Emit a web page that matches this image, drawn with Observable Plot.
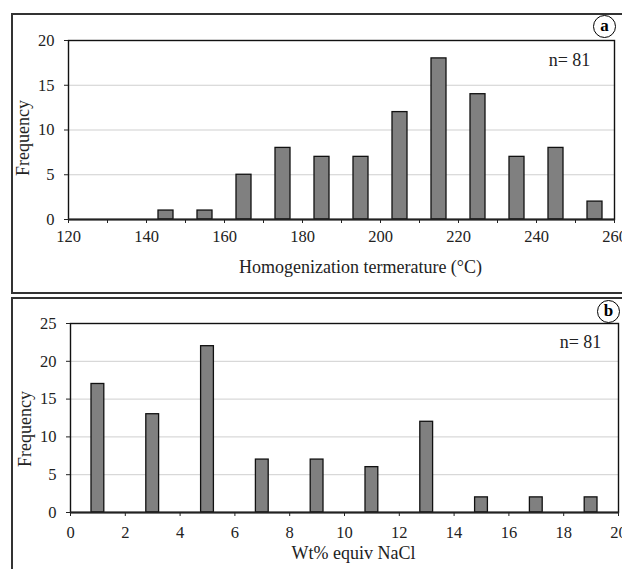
<!DOCTYPE html>
<html>
<head>
<meta charset="utf-8">
<script src="https://cdn.jsdelivr.net/npm/d3@7"></script>
<script src="https://cdn.jsdelivr.net/npm/@observablehq/plot@0.6"></script>
<style>
  html, body { margin: 0; padding: 0; background: #fff; }
  #wrap { position: relative; width: 622px; height: 569px; overflow: hidden; font-family: "Liberation Serif", "DejaVu Serif", serif; }
  .panel { position: absolute; left: 0; }
  .outer { position: absolute; border: 2px solid #333; box-sizing: border-box; }
  .tag { position: absolute; width: 23px; height: 23px; border: 1.6px solid #000; border-radius: 50%; box-sizing: border-box;
         font: bold 17px "Liberation Serif", serif; text-align: center; line-height: 19px; background: #fff; }
</style>
</head>
<body>
<div id="wrap">
  <div class="outer" style="left:11px; top:13px; width:700px; height:281px;"></div>
  <div class="outer" style="left:11px; top:297px; width:700px; height:300px;"></div>
  <div class="panel" id="pa" style="top:0px;"></div>
  <div class="panel" id="pb" style="top:290px;"></div>
  <div class="tag" style="left:593px; top:15px;">a</div>
  <div class="tag" style="left:597px; top:300px;">b</div>
</div>
<script>
// Panel a: homogenization temperature histogram (bin start, width 10)
const tempBins = [140, 150, 160, 170, 180, 190, 200, 210, 220, 230, 240, 250];
const tempFreq = [1, 1, 5, 8, 7, 7, 12, 18, 14, 7, 8, 2];
const tempTicks = [120, 130, 140, 150, 160, 170, 180, 190, 200, 210, 220, 230, 240, 250, 260];
const tempYTicks = [0, 5, 10, 15, 20];
// Panel b: salinity histogram (bin start, width 2)
const saltBins = [0, 2, 4, 6, 8, 10, 12, 14, 16, 18];
const saltFreq = [17, 13, 22, 7, 7, 6, 12, 2, 2, 2];
const saltTicks = [0, 2, 4, 6, 8, 10, 12, 14, 16, 18, 20];
const saltYTicks = [0, 5, 10, 15, 20, 25];

const tempData = tempBins.map((b, i) => ({x1: b, x2: b + 10, y: tempFreq[i]}));
const saltData = saltBins.map((b, i) => ({x1: b, x2: b + 2, y: saltFreq[i]}));

const font = "Liberation Serif";

function panel({data, xDomain, yDomain, xTicks, yTicks, labelEvery, height, mt, mb, ml, mr, inset, xTitle, xTitleDx, xTitleDy, freqDy, nDx, nDy, tickPad}) {
  return Plot.plot({
    width: 622, height,
    marginTop: mt, marginBottom: mb, marginLeft: ml, marginRight: mr,
    style: {fontFamily: font, fontSize: "16.5px", color: "#222", background: "transparent", overflow: "visible"},
    x: {domain: xDomain},
    y: {domain: yDomain},
    marks: [
      Plot.ruleY(yTicks.filter(d => d > yDomain[0] && d < yDomain[1]), {stroke: "#cfcfcf", strokeWidth: 1}),
      Plot.rectY(data, {x1: "x1", x2: "x2", y: "y", insetLeft: inset, insetRight: inset, fill: "#808080", stroke: "#111", strokeWidth: 1.3}),
      Plot.frame({stroke: "#111", strokeWidth: 1.4}),
      Plot.ruleY([0], {stroke: "#222", strokeWidth: 2}),
      Plot.axisX({ticks: xTicks, tickSize: 4, tickPadding: tickPad, tickFormat: d => (d % labelEvery === 0 ? String(d) : ""), label: null, fontSize: 16.5, fontFamily: font}),
      Plot.axisY({ticks: yTicks, tickSize: 4, tickPadding: 10, label: null, fontSize: 16.5, fontFamily: font}),
      Plot.text([xTitle], {frameAnchor: "bottom", dx: xTitleDx, dy: xTitleDy, fontSize: 18, fontFamily: font, lineAnchor: "middle", fill: "#222"}),
      Plot.text(["Frequency"], {frameAnchor: "left", dx: -45, dy: freqDy, rotate: -90, fontSize: 18, fontFamily: font, lineAnchor: "middle", textAnchor: "middle", fill: "#222"}),
      Plot.text(["n= 81"], {frameAnchor: "top-right", dx: nDx, dy: nDy, fontSize: 18, fontFamily: font, textAnchor: "middle", lineAnchor: "middle", fill: "#222"})
    ]
  });
}

document.getElementById("pa").appendChild(panel({
  data: tempData, xDomain: [120, 260], yDomain: [0, 20], xTicks: tempTicks, yTicks: tempYTicks, labelEvery: 20,
  height: 292, mt: 40, mb: 73, ml: 68, mr: 8, inset: 12,
  xTitle: "Homogenization termerature (°C)", xTitleDx: 19, xTitleDy: 48, freqDy: 8, nDx: -45, nDy: 20, tickPad: 7
}));

document.getElementById("pb").appendChild(panel({
  data: saltData, xDomain: [0, 20], yDomain: [0, 25], xTicks: saltTicks, yTicks: saltYTicks, labelEvery: 2,
  height: 279, mt: 33, mb: 57, ml: 70, mr: 4, inset: 21,
  xTitle: "Wt% equiv NaCl", xTitleDx: 9, xTitleDy: 41, freqDy: 11, nDx: -38, nDy: 19, tickPad: 10
}));
</script>
</body>
</html>
